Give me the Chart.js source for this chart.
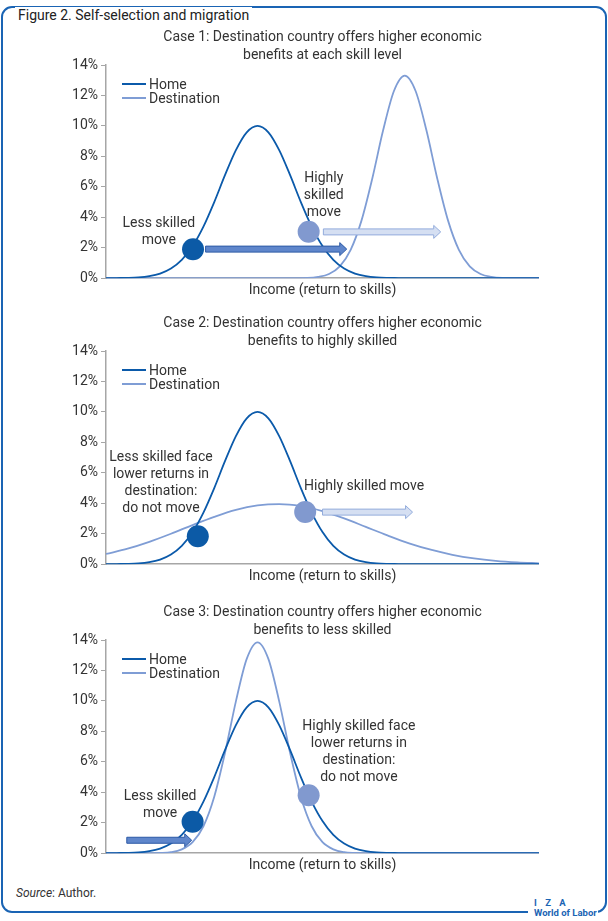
<!DOCTYPE html>
<html lang="en">
<head>
<meta charset="UTF-8">
<title>Self-selection and migration</title>
<script src="https://cdn.jsdelivr.net/npm/chart.js"></script>
<style>
  body { margin: 0; width: 608px; height: 921px; background: #fff; font-family: Roboto, "Noto Sans", sans-serif; color: #333; position: relative; overflow: hidden; }
  #frame { position: absolute; left: 1px; top: 6px; width: 606px; height: 907px; box-sizing: border-box; border: 2px solid #1a64b4; border-radius: 11px; }
  #figtitle { position: absolute; left: 12px; top: -1px; background: #fff; padding: 0 3px; font-size: 14px; line-height: 16px; color: #222; }
  #source { position: absolute; left: 16px; top: 886px; font-size: 12px; color: #333; }
  #logo { position: absolute; left: 528px; top: 898px; width: 70px; height: 22px; background: #fff; color: #1a64b4; font-weight: bold; font-size: 9.5px; line-height: 10px; padding-left: 6px; box-sizing: border-box; }
  .panel { position: absolute; left: 50px; width: 489px; height: 274px; }
</style>
</head>
<body>
<div id="frame"><div id="figtitle">Figure 2. Self-selection and migration</div></div>
<div id="source"><i>Source</i>: Author.</div>
<div id="logo"><div style="letter-spacing:3px">I Z A</div><div>World of Labor</div></div>

<div class="panel" style="top:29px"><canvas id="c1"></canvas></div>
<div class="panel" style="top:315px"><canvas id="c2"></canvas></div>
<div class="panel" style="top:604px"><canvas id="c3"></canvas></div>

<script>
// income grid (x) and densities (%)
var xGrid = [0, 2.5, 5, 7.5, 10, 12.5, 15, 17.5, 20, 22.5, 25, 27.5, 30, 32.5, 35, 37.5, 40, 42.5, 45, 47.5, 50,
             52.5, 55, 57.5, 60, 62.5, 65, 67.5, 70, 72.5, 75, 77.5, 80, 82.5, 85, 87.5, 90, 92.5, 95, 97.5, 100];
var homeY = [0, 0.01, 0.02, 0.05, 0.13, 0.30, 0.63, 1.20, 2.11, 3.39, 5.00, 6.78, 8.41, 9.58, 10.00, 9.58, 8.41, 6.78, 5.00, 3.39, 2.11,
             1.20, 0.63, 0.30, 0.13, 0.05, 0.02, 0.01, 0, 0, 0, 0, 0, 0, 0, 0, 0, 0, 0, 0, 0];

// case 1 destination
var dest1X = [0, 39, 41.5, 44, 46.5, 49, 51.5, 54, 56.5, 59, 61.5, 64, 66.5, 69, 71.5, 74, 76.5, 79, 81.5, 84, 86.5, 89, 91.5, 94, 96.5, 100];
var dest1Y = [0, 0, 0, 0.01, 0.02, 0.09, 0.28, 0.78, 1.86, 3.78, 6.55, 9.71, 12.29, 13.30, 12.29, 9.71, 6.55, 3.78, 1.86, 0.78, 0.28, 0.09, 0.02, 0.01, 0, 0];

// case 2 destination
var dest2X = [0, 5, 10, 15, 20, 25, 30, 35, 40, 45, 50, 55, 60, 65, 70, 75, 80, 85, 90, 95, 100];
var dest2Y = [0.67, 1.02, 1.47, 2.00, 2.57, 3.11, 3.57, 3.86, 3.95, 3.82, 3.49, 3.01, 2.45, 1.89, 1.37, 0.95, 0.62, 0.38, 0.22, 0.12, 0.06];

// case 3 destination
var dest3Y = [0, 0, 0, 0, 0, 0.02, 0.07, 0.25, 0.72, 1.77, 3.71, 6.61, 9.97, 12.76, 13.85, 12.76, 9.97, 6.61, 3.71, 1.77, 0.72,
              0.25, 0.07, 0.02, 0, 0, 0, 0, 0, 0, 0, 0, 0, 0, 0, 0, 0, 0, 0, 0, 0];

// marker dots [x, y%]
var lessDots = [[20.1, 1.9], [21.2, 1.83], [20.0, 2.06]];
var highDots = [[46.8, 3.05], [46.0, 3.43], [46.8, 3.81]];

// arrows [from x, to x, y%, style]
var arrows1 = [[23.0, 55.6, 1.91, 'dark'], [50.2, 77.3, 3.04, 'light']];
var arrows2 = [[50.0, 70.8, 3.42, 'light']];
var arrows3 = [[4.8, 19.8, 0.85, 'dark']];

var titles = [
  ['Case 1: Destination country offers higher economic', 'benefits at each skill level'],
  ['Case 2: Destination country offers higher economic', 'benefits to highly skilled'],
  ['Case 3: Destination country offers higher economic', 'benefits to less skilled']
];

// note text anchored at [x, y%] (centre of the block)
var notes1 = [[['Less skilled', 'move'], 12.2, 3.05], [['Highly', 'skilled', 'move'], 50.3, 5.45]];
var notes2 = [[['Less skilled face', 'lower returns in', 'destination:', 'do not move'], 12.7, 5.33], [['Highly skilled move'], 59.6, 5.12]];
var notes3 = [[['Less skilled', 'move'], 12.5, 3.16], [['Highly skilled face', 'lower returns in', 'destination:', 'do not move'], 58.4, 6.64]];

var HOME = '#0b5aaa', DEST = '#7f9dd5', DOT_DARK = '#0c5aa6', DOT_LIGHT = '#8199cf';
var FONT = 'Roboto, "Noto Sans", sans-serif';

function pts(xs, ys) {
  return xs.map(function (x, i) { return { x: x, y: ys[i] }; });
}

function drawArrow(ctx, x0, x1, y, style) {
  var sh = 3, hh = 6.5, hl = 7;
  ctx.beginPath();
  ctx.moveTo(x0, y - sh);
  ctx.lineTo(x1 - hl, y - sh);
  ctx.lineTo(x1 - hl, y - hh);
  ctx.lineTo(x1, y);
  ctx.lineTo(x1 - hl, y + hh);
  ctx.lineTo(x1 - hl, y + sh);
  ctx.lineTo(x0, y + sh);
  ctx.closePath();
  ctx.fillStyle = style === 'dark' ? '#5f86cb' : '#d5dff2';
  ctx.strokeStyle = style === 'dark' ? '#2d5aa6' : '#93acdc';
  ctx.lineWidth = 1;
  ctx.fill();
  ctx.stroke();
}

var overlay = {
  id: 'overlay',
  afterDatasetsDraw: function (chart, args, opts) {
    var ctx = chart.ctx, xs = chart.scales.x, ys = chart.scales.y, area = chart.chartArea;
    ctx.save();
    opts.arrows.forEach(function (a) {
      drawArrow(ctx, xs.getPixelForValue(a[0]), xs.getPixelForValue(a[1]), ys.getPixelForValue(a[2]), a[3]);
    });
    ctx.font = '14px ' + FONT;
    ctx.fillStyle = '#333';
    ctx.textAlign = 'center';
    ctx.textBaseline = 'middle';
    opts.notes.forEach(function (n) {
      var lines = n[0], cx = xs.getPixelForValue(n[1]), cy = ys.getPixelForValue(n[2]);
      var top = cy - (lines.length - 1) * 17 / 2;
      lines.forEach(function (t, i) { ctx.fillText(t, cx, top + i * 17); });
    });
    // legend (Home / Destination)
    ctx.textAlign = 'left';
    chart.data.datasets.filter(function (d) { return d.showLine !== false; }).forEach(function (d, i) {
      var y = area.top + 19 + i * 14;
      ctx.strokeStyle = d.borderColor;
      ctx.lineWidth = 2;
      ctx.beginPath();
      ctx.moveTo(area.left + 16, y);
      ctx.lineTo(area.left + 40, y);
      ctx.stroke();
      ctx.fillStyle = '#333';
      ctx.fillText(d.label, area.left + 43, y + 1);
    });
    ctx.restore();
  }
};

function makeChart(id, idx, destPts, arrows, notes) {
  var ctx = document.getElementById(id).getContext('2d');
  return new Chart(ctx, {
    type: 'line',
    data: {
      datasets: [
        { label: 'less', data: [{ x: lessDots[idx][0], y: lessDots[idx][1] }], showLine: false,
          pointRadius: 11, pointBackgroundColor: DOT_DARK, pointBorderWidth: 0, order: 0 },
        { label: 'high', data: [{ x: highDots[idx][0], y: highDots[idx][1] }], showLine: false,
          pointRadius: 11, pointBackgroundColor: DOT_LIGHT, pointBorderWidth: 0, order: 0 },
        { label: 'Home', data: pts(xGrid, homeY), borderColor: HOME, borderWidth: 1.8,
          pointRadius: 0, cubicInterpolationMode: 'monotone', fill: false, order: 1 },
        { label: 'Destination', data: destPts, borderColor: DEST, borderWidth: 1.8,
          pointRadius: 0, cubicInterpolationMode: 'monotone', fill: false, order: 2 }
      ]
    },
    options: {
      responsive: true,
      maintainAspectRatio: false,
      animation: false,
      layout: { padding: 0, autoPadding: false },
      plugins: {
        legend: { display: false },
        tooltip: { enabled: false },
        title: {
          display: true,
          fullSize: false,
          text: titles[idx],
          color: '#333',
          font: { family: FONT, size: 14, weight: 'normal', lineHeight: 1.25 },
          padding: { top: 0, bottom: 1 }
        },
        overlay: { arrows: arrows, notes: notes }
      },
      scales: {
        x: {
          type: 'linear', min: 0, max: 100,
          ticks: { display: false },
          grid: { display: true, drawOnChartArea: false, drawTicks: false },
          border: { color: '#a6a6a6', width: 1.5 },
          title: { display: true, text: 'Income (return to skills)', color: '#333',
                   font: { family: FONT, size: 14 }, padding: { top: 4, bottom: 4 } }
        },
        y: {
          min: 0, max: 14,
          ticks: { stepSize: 2, padding: 3, color: '#333', font: { family: FONT, size: 14 },
                   callback: function (v) { return v + '%'; } },
          grid: { drawOnChartArea: false, tickLength: 5, color: '#a6a6a6' },
          border: { color: '#a6a6a6', width: 1.5 },
          afterFit: function (s) { s.width = 56; }
        }
      }
    },
    plugins: [overlay]
  });
}

makeChart('c1', 0, pts(dest1X, dest1Y), arrows1, notes1);
makeChart('c2', 1, pts(dest2X, dest2Y), arrows2, notes2);
makeChart('c3', 2, pts(xGrid, dest3Y), arrows3, notes3);
</script>
</body>
</html>
